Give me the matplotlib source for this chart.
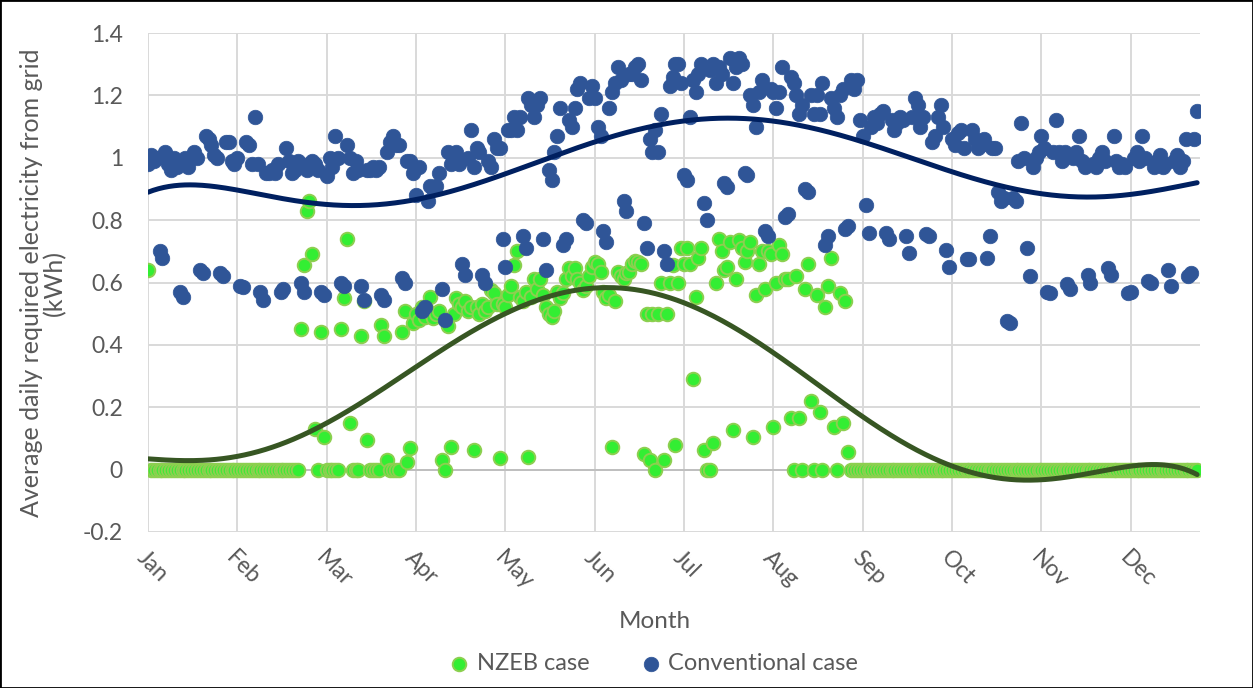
import numpy as np
import matplotlib
matplotlib.use("Agg")
import matplotlib.pyplot as plt
from matplotlib.patches import Rectangle

plt.rcParams['font.family'] = ['Lato', 'DejaVu Sans']

# daily average grid electricity (kWh), one row per week starting Tue 1 Jan
# columns: Tue Wed Thu Fri Sat Sun Mon
conventional = [
    0.98, 1.01, 0.99, 1.00, 0.70, 0.68, 1.02,
    0.98, 0.96, 1.00, 0.97, 0.57, 0.555, 1.00,
    0.97, 1.00, 1.02, 1.00, 0.64, 0.63, 1.07,
    1.06, 1.04, 1.01, 1.00, 0.63, 0.62, 1.05,
    1.05, 0.99, 0.98, 1.00, 0.59, 0.585, 1.05,
    1.04, 0.98, 1.13, 0.98, 0.57, 0.545, 0.95,
    0.95, 0.96, 0.95, 0.98, 0.57, 0.58, 1.03,
    0.99, 0.95, 0.96, 0.99, 0.60, 0.57, 0.96,
    0.98, 0.99, 0.98, 0.96, 0.57, 0.56, 0.94,
    1.00, 0.97, 1.07, 1.00, 0.60, 0.59, 1.04,
    1.00, 0.95, 0.99, 0.96, 0.59, 0.545, 0.96,
    0.96, 0.97, 0.96, 0.97, 0.56, 0.545, 1.02,
    1.05, 1.07, 1.04, 1.04, 0.615, 0.60, 0.99,
    0.99, 0.95, 0.88, 0.97, 0.51, 0.52, 0.86,
    0.91, 0.90, 0.91, 0.95, 0.58, 0.48, 1.02,
    0.98, 1.00, 1.02, 0.98, 0.66, 0.625, 1.00,
    1.09, 0.97, 1.03, 1.02, 0.625, 0.60, 0.99,
    0.97, 1.06, 1.03, 1.03, 0.74, 0.65, 1.09,
    1.09, 1.13, 1.09, 1.13, 0.75, 0.71, 1.19,
    1.17, 1.13, 1.17, 1.19, 0.74, 0.64, 0.96,
    0.93, 1.02, 1.07, 1.16, 0.72, 0.74, 1.12,
    1.10, 1.16, 1.22, 1.24, 0.80, 0.79, 1.19,
    1.23, 1.19, 1.10, 1.07, 0.765, 0.73, 1.16,
    1.21, 1.24, 1.29, 1.25, 0.86, 0.83, 1.27,
    1.27, 1.29, 1.30, 1.25, 0.79, 0.71, 1.06,
    1.02, 1.09, 1.02, 1.14, 0.70, 0.66, 1.23,
    1.26, 1.30, 1.30, 1.24, 0.945, 0.93, 1.13,
    1.25, 1.21, 1.27, 1.30, 0.855, 0.80, 1.28,
    1.30, 1.24, 1.29, 1.27, 0.92, 0.905, 1.32,
    1.24, 1.29, 1.32, 1.30, 0.95, 0.945, 1.20,
    1.17, 1.10, 1.21, 1.25, 0.765, 0.75, 1.22,
    1.21, 1.16, 1.21, 1.29, 0.81, 0.82, 1.26,
    1.24, 1.20, 1.14, 1.17, 0.90, 0.89, 1.20,
    1.14, 1.20, 1.14, 1.24, 0.72, 0.75, 1.19,
    1.16, 1.13, 1.20, 1.22, 0.77, 0.78, 1.25,
    1.22, 1.25, 1.12, 1.07, 0.85, 0.76, 1.10,
    1.13, 1.11, 1.14, 1.15, 0.76, 0.74, 1.12,
    1.09, 1.11, 1.13, 1.12, 0.75, 0.695, 1.13,
    1.19, 1.17, 1.10, 1.13, 0.755, 0.75, 1.05,
    1.07, 1.13, 1.17, 1.10, 0.705, 0.65, 1.06,
    1.04, 1.08, 1.09, 1.03, 0.675, 0.675, 1.09,
    1.06, 1.03, 1.04, 1.06, 0.68, 0.75, 1.03,
    1.03, 0.89, 0.86, 0.87, 0.475, 0.47, 0.87,
    0.86, 0.99, 1.11, 1.00, 0.71, 0.62, 0.97,
    1.00, 1.02, 1.07, 1.03, 0.57, 0.565, 1.02,
    1.12, 1.02, 0.99, 1.02, 0.595, 0.58, 1.00,
    1.02, 1.07, 0.99, 0.97, 0.625, 0.60, 0.98,
    0.97, 1.00, 1.02, 0.99, 0.645, 0.625, 1.07,
    0.99, 0.97, 0.98, 0.97, 0.565, 0.57, 1.00,
    1.02, 0.99, 1.07, 1.00, 0.605, 0.60, 0.97,
    0.99, 1.01, 0.97, 0.98, 0.64, 0.59, 0.99,
    1.01, 0.97, 0.99, 1.06, 0.62, 0.63, 1.06,
    1.15,
]

nzeb = [
    0.64, 0, 0, 0, 0, 0, 0,
    0, 0, 0, 0, 0, 0, 0,
    0, 0, 0, 0, 0, 0, 0,
    0, 0, 0, 0, 0, 0, 0,
    0, 0, 0, 0, 0, 0, 0,
    0, 0, 0, 0, 0, 0, 0,
    0, 0, 0, 0, 0, 0, 0,
    0, 0, 0, 0, 0.45, 0.655, 0.83,
    0.86, 0.69, 0.13, 0, 0.44, 0.106, 0,
    0, 0, 0, 0, 0.45, 0.55, 0.74,
    0.15, 0, 0, 0, 0.43, 0.54, 0.095,
    0, 0, 0, 0, 0.465, 0.43, 0.03,
    0, 0, 0, 0, 0.44, 0.51, 0.026,
    0.07, 0.47, 0.50, 0.48, 0.52, 0.49, 0.51,
    0.555, 0.485, 0.50, 0.51, 0.03, 0, 0.46,
    0.074, 0.50, 0.55, 0.53, 0.52, 0.54, 0.51,
    0.52, 0.063, 0.52, 0.50, 0.53, 0.51, 0.52,
    0.575, 0.565, 0.53, 0.036, 0.53, 0.52, 0.56,
    0.59, 0.655, 0.70, 0.555, 0.54, 0.57, 0.04,
    0.555, 0.61, 0.58, 0.61, 0.56, 0.52, 0.50,
    0.49, 0.51, 0.57, 0.55, 0.565, 0.61, 0.645,
    0.62, 0.645, 0.61, 0.60, 0.575, 0.59, 0.62,
    0.65, 0.665, 0.66, 0.635, 0.57, 0.55, 0.56,
    0.074, 0.54, 0.635, 0.62, 0.61, 0.63, 0.635,
    0.66, 0.67, 0.665, 0.66, 0.05, 0.50, 0.03,
    0.50, 0, 0.50, 0.60, 0.03, 0.50, 0.60,
    0.655, 0.08, 0.60, 0.71, 0.66, 0.71, 0.66,
    0.29, 0.555, 0.68, 0.71, 0.063, 0, 0,
    0.084, 0.60, 0.74, 0.70, 0.64, 0.65, 0.73,
    0.127, 0.61, 0.735, 0.71, 0.665, 0.70, 0.73,
    0.106, 0.56, 0.66, 0.70, 0.58, 0.70, 0.69,
    0.138, 0.60, 0.72, 0.69, 0.61, 0.61, 0.165,
    0, 0.62, 0.165, 0, 0.58, 0.66, 0.22,
    0, 0.56, 0.186, 0, 0.52, 0.59, 0.68,
    0.138, 0, 0.565, 0.15, 0.54, 0.058, 0,
    0, 0, 0, 0, 0, 0, 0,
    0, 0, 0, 0, 0, 0, 0,
    0, 0, 0, 0, 0, 0, 0,
    0, 0, 0, 0, 0, 0, 0,
    0, 0, 0, 0, 0, 0, 0,
    0, 0, 0, 0, 0, 0, 0,
    0, 0, 0, 0, 0, 0, 0,
    0, 0, 0, 0, 0, 0, 0,
    0, 0, 0, 0, 0, 0, 0,
    0, 0, 0, 0, 0, 0, 0,
    0, 0, 0, 0, 0, 0, 0,
    0, 0, 0, 0, 0, 0, 0,
    0, 0, 0, 0, 0, 0, 0,
    0, 0, 0, 0, 0, 0, 0,
    0, 0, 0, 0, 0, 0, 0,
    0, 0, 0, 0, 0, 0, 0,
    0, 0, 0, 0, 0, 0, 0,
    0,
]

months = ['Jan', 'Feb', 'Mar', 'Apr', 'May', 'Jun',
          'Jul', 'Aug', 'Sep', 'Oct', 'Nov', 'Dec']
ytick_vals = [-0.2, 0, 0.2, 0.4, 0.6, 0.8, 1.0, 1.2, 1.4]
ytick_text = ['-0.2', '0', '0.2', '0.4', '0.6', '0.8', '1', '1.2', '1.4']

days = np.arange(1, len(conventional) + 1)
conv = np.array(conventional)
nz = np.array(nzeb)

# 6th order polynomial trendlines
poly_conv = np.polynomial.Polynomial.fit(days, conv, 6)
poly_nz = np.polynomial.Polynomial.fit(days, nz, 6)
xs = np.linspace(days[0], days[-1], 600)

fig = plt.figure(figsize=(12.53, 6.88), dpi=100)
ax = fig.add_axes([148 / 1253, 156 / 688, 1052 / 1253, 499 / 688])

ax.scatter(days, nz, s=95, c='#33EE33', edgecolors='#8DCF50', linewidths=1.4,
           zorder=3, label='NZEB case')
ax.scatter(days, conv, s=110, c='#2F5597', edgecolors='#2F5597', linewidths=0.5,
           zorder=4, label='Conventional case')
ax.plot(xs, poly_conv(xs), color='#002060', lw=3.6, zorder=5,
        solid_capstyle='round')
ax.plot(xs, poly_nz(xs), color='#375623', lw=3.6, zorder=5,
        solid_capstyle='round')

ax.set_xlim(1, 366)
ax.set_ylim(-0.2, 1.4)
ax.set_xticks(1 + 31 * np.arange(12))
ax.set_xticklabels(months, rotation=-45, ha='left', va='top',
                   rotation_mode='anchor')
ax.set_yticks(ytick_vals)
ax.set_yticklabels(ytick_text)
ax.tick_params(length=0, labelsize=16.5, labelcolor='#595959')
ax.tick_params(axis='x', pad=11)
ax.tick_params(axis='y', pad=18)

ax.grid(True, color='#D9D9D9', lw=1.4)
ax.set_axisbelow(True)
ax.axhline(0, color='#BFBFBF', lw=1.4, zorder=1)
for s in ax.spines.values():
    s.set_visible(False)

ax.set_xlabel('Month', fontsize=17.5, color='#595959')
ax.xaxis.set_label_coords(0.482, -0.158)
ax.set_ylabel('Average daily required electricity from grid\n(kWh)',
              fontsize=18, color='#595959', linespacing=1.0)
ax.yaxis.set_label_coords(-0.078, 0.50)

fig.legend(loc='center', bbox_to_anchor=(0.521, 0.036), ncol=2, frameon=False,
           fontsize=17, handlelength=1.0, handletextpad=0.25,
           columnspacing=2.1, labelcolor='#595959', markerscale=1.0)

fig.patches.append(Rectangle((0, 0), 1, 1, transform=fig.transFigure,
                             fill=False, ec='black', lw=2))

fig.savefig('out.png', dpi=100)
